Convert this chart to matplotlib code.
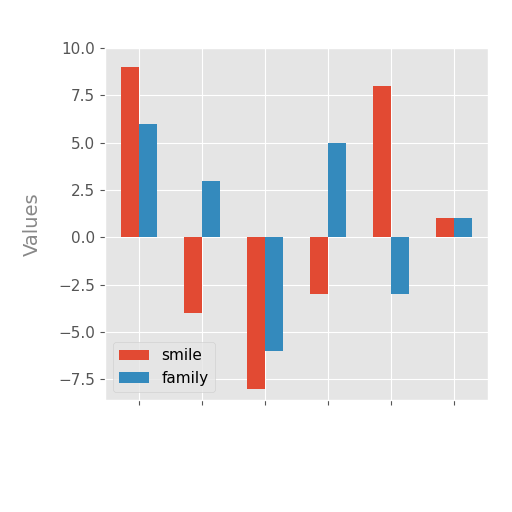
import numpy as np
import matplotlib
matplotlib.use("Agg")
import matplotlib.pyplot as plt

plt.style.use("ggplot")

groups = np.arange(6)
smile = [9, -4, -8, -3, 8, 1]
family = [6, 3, -6, 5, -3, 1]

fig = plt.figure(figsize=(5.12, 5.12), dpi=100)
ax = fig.add_axes([0.205, 0.219, 0.748, 0.687])
w = 0.28
ax.bar(groups - w / 2, smile, w, label="smile", color="#E24A33")
ax.bar(groups + w / 2, family, w, label="family", color="#348ABD")
ax.set_xticks(groups)
ax.set_xticklabels([])
ax.set_xlim(-0.54, 5.54)
ax.set_ylim(-8.6, 10)
ax.set_yticks(np.arange(-7.5, 10.1, 2.5))
ax.set_ylabel("Values", fontsize=14, color="#888888", labelpad=12)
ax.tick_params(labelsize=11)
ax.legend(loc="lower left", fontsize=11)
fig.savefig("out.png")
